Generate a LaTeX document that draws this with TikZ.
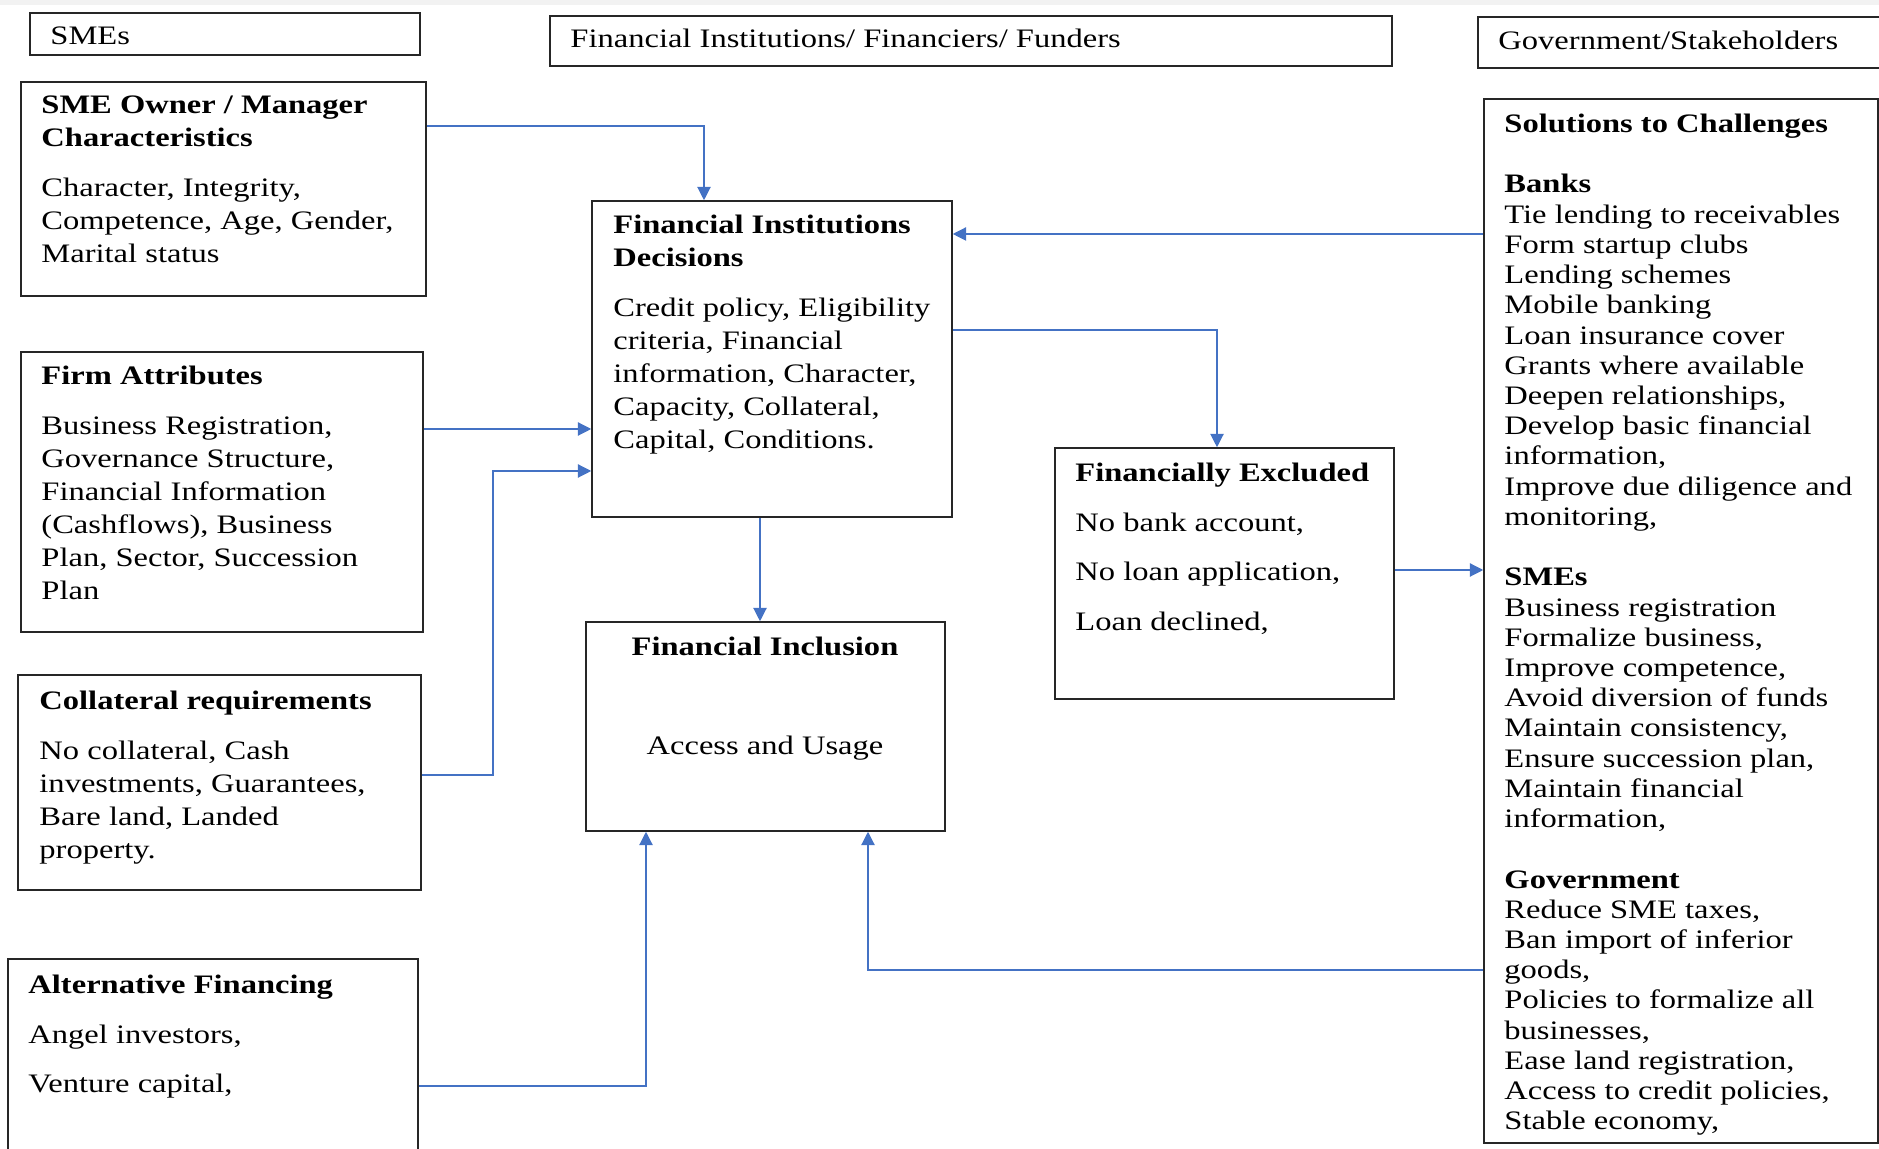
\documentclass[tikz,border=0pt]{standalone}
\usepackage{fontspec}
\setmainfont{Liberation Serif}[FakeStretch=1.22]
\usetikzlibrary{fit,arrows.meta}
\definecolor{linkblue}{RGB}{68,114,196}

\begin{document}
\begin{tikzpicture}[x=0.45pt,y=-0.45pt]
        \tikzstyle{box}=[draw=black!85,line width=0.7pt,rectangle,inner sep=0pt]
        \tikzstyle{txt}=[anchor=north west,inner sep=0pt,align=left,font=\fontsize{12pt}{14.85pt}\selectfont]
        \tikzstyle{list}=[anchor=north west,inner sep=0pt,align=left,font=\fontsize{12pt}{13.6pt}\selectfont]
        \tikzstyle{head}=[anchor=base west,inner sep=0pt,font=\fontsize{12pt}{14pt}\selectfont]
        \tikzstyle{link}=[draw=linkblue,line width=0.55pt,-{Triangle[length=6pt,width=6pt]}]

        \useasboundingbox (0,0) rectangle (1879,1149);
        \fill[black!5] (0,0) rectangle (1879,5);

        % column headers
        \node[box,fit={(30,13) (420,55)}] (hsme) {};
        \node[box,fit={(550,16) (1392,66)}] (hfin) {};
        \node[box,fit={(1478,17) (1895,68)}] (hgov) {};
        \node[head] (hsmetxt) at (50,45) {SMEs};
        \node[head] (hfintxt) at (570,47.5) {Financial Institutions/ Financiers/ Funders};
        \node[head] (hgovtxt) at (1498,50) {Government/Stakeholders};

        % boxes
        \node[box,fit={(21,82) (426,296)}] (owner) {};
        \node[box,fit={(21,352) (423,632)}] (firm) {};
        \node[box,fit={(18,675) (421,890)}] (coll) {};
        \node[box,fit={(8,959) (418,1170)}] (alt) {};
        \node[box,fit={(592,201) (952,517)}] (fid) {};
        \node[box,fit={(586,622) (945,831)}] (incl) {};
        \node[box,fit={(1055,448) (1394,699)}] (excl) {};
        \node[box,fit={(1484,99) (1878,1143)}] (sol) {};

        % texts
        \node[txt] (ownertxt) at (41,95.5) {\textbf{SME Owner / Manager}\\
            \textbf{Characteristics}\\[7.5pt]
            Character, Integrity,\\
            Competence, Age, Gender,\\
            Marital status};
        \node[txt] (firmtxt) at (41,365.5) {\textbf{Firm Attributes}\\[7.5pt]
            Business Registration,\\
            Governance Structure,\\
            Financial Information\\
            (Cashflows), Business\\
            Plan, Sector, Succession\\
            Plan};
        \node[txt] (colltxt) at (39,690.5) {\textbf{Collateral requirements}\\[7.5pt]
            No collateral, Cash\\
            investments, Guarantees,\\
            Bare land, Landed\\
            property.};
        \node[txt] (alttxt) at (28,974.5) {\textbf{Alternative Financing}\\[7.5pt]
            Angel investors,\\[7.5pt]
            Venture capital,};
        \node[txt] (fidtxt) at (613,214.5) {\textbf{Financial Institutions}\\
            \textbf{Decisions}\\[7.5pt]
            Credit policy, Eligibility\\
            criteria, Financial\\
            information, Character,\\
            Capacity, Collateral,\\
            Capital, Conditions.};
        \node[txt,anchor=north,align=center] (incltxt) at (765,636.5) {\textbf{Financial Inclusion}\\[29.7pt]
            Access and Usage};
        \node[txt] (excltxt) at (1075,462.5) {\textbf{Financially Excluded}\\[7.5pt]
            No bank account,\\[7.5pt]
            No loan application,\\[7.5pt]
            Loan declined,};
        \node[list] (soltxt) at (1504,113.5) {\textbf{Solutions to Challenges}\\[13.6pt]
            \textbf{Banks}\\
            Tie lending to receivables\\
            Form startup clubs\\
            Lending schemes\\
            Mobile banking\\
            Loan insurance cover\\
            Grants where available\\
            Deepen relationships,\\
            Develop basic financial\\
            information,\\
            Improve due diligence and\\
            monitoring,\\[13.6pt]
            \textbf{SMEs}\\
            Business registration\\
            Formalize business,\\
            Improve competence,\\
            Avoid diversion of funds\\
            Maintain consistency,\\
            Ensure succession plan,\\
            Maintain financial\\
            information,\\[13.6pt]
            \textbf{Government}\\
            Reduce SME taxes,\\
            Ban import of inferior\\
            goods,\\
            Policies to formalize all\\
            businesses,\\
            Ease land registration,\\
            Access to credit policies,\\
            Stable economy,};

        % bend points
        \coordinate (k1) at (704,126);
        \coordinate (k2) at (0,429);
        \coordinate (k3) at (493,775);
        \coordinate (k4) at (493,471);
        \coordinate (k5) at (760,0);
        \coordinate (k6) at (1217,330);
        \coordinate (k7) at (0,234);
        \coordinate (k8) at (0,570);
        \coordinate (k9) at (646,1086);
        \coordinate (k10) at (868,970);

        % connectors
        \draw[link] (k1 -| owner.east) -- (k1) -- (k1 |- fid.north);
        \draw[link] (firm.east |- k2) -- (fid.west |- k2);
        \draw[link] (coll.east |- k3) -- (k3) -- (k4) -- (fid.west |- k4);
        \draw[link] (fid.south -| k5) -- (incl.north -| k5);
        \draw[link] (fid.east |- k6) -- (k6) -- (k6 |- excl.north);
        \draw[link] (sol.west |- k7) -- (fid.east |- k7);
        \draw[link] (excl.east |- k8) -- (sol.west |- k8);
        \draw[link] (alt.east |- k9) -- (k9) -- (k9 |- incl.south);
        \draw[link] (sol.west |- k10) -- (k10) -- (k10 |- incl.south);

    \end{tikzpicture}
\end{document}
